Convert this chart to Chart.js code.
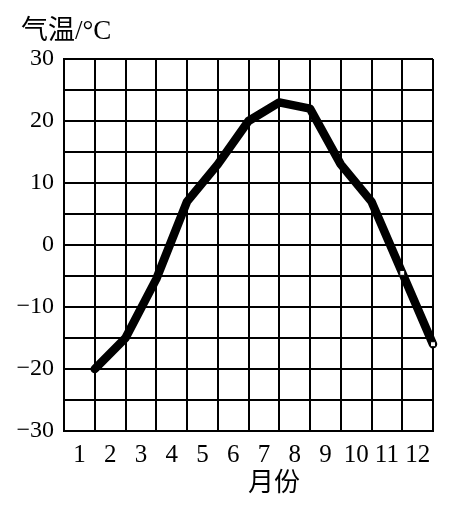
<!DOCTYPE html>
<html>
<head>
<meta charset="utf-8">
<script src="https://cdn.jsdelivr.net/npm/chart.js@4/dist/chart.umd.min.js"></script>
<style>
    html, body { margin: 0; padding: 0; background: #fff; }
    #wrap { width: 463px; height: 507px; }
</style>
</head>
<body>
<div id="wrap"><canvas id="chart"></canvas></div>
<script>
    // --- Data ---
    const months = [1, 2, 3, 4, 5, 6, 7, 8, 9, 10, 11, 12];
    const monthLabels = ['1', '2', '3', '4', '5', '6', '7', '8', '9', '10', '11', '12'];
    const temperatures = [-20, -15, -5.5, 7, 13, 20, 23, 22, 13, 7, -4.5, -16];
    const yTickLabels = [-30, -20, -10, 0, 10, 20, 30];

    const SERIF = '"Liberation Serif", "Noto Sans CJK SC", serif';

    // axis captions: y caption top-left, x caption under the month labels
    const captions = {
        id: 'captions',
        afterDraw(chart) {
            const ctx = chart.ctx;
            ctx.save();
            ctx.fillStyle = '#000';
            ctx.textBaseline = 'middle';
            ctx.textAlign = 'left';
            ctx.font = '27px ' + SERIF;
            ctx.fillText('气温/°C', 21, 32);
            ctx.textAlign = 'center';
            ctx.font = '26px ' + SERIF;
            ctx.fillText('月份', 274, 484);
            ctx.restore();
        }
    };

    const ctx = document.getElementById('chart').getContext('2d');
    new Chart(ctx, {
        type: 'line',
        data: {
            datasets: [{
                data: months.map((m, i) => ({ x: m, y: temperatures[i] })),
                borderColor: '#000',
                borderWidth: 8.5,
                borderCapStyle: 'round',
                borderJoinStyle: 'round',
                tension: 0,
                clip: false,
                pointStyle: 'rect',
                pointRadius: (c) => c.dataIndex >= 10 ? 3.5 : 0,
                pointBackgroundColor: '#fff',
                pointBorderColor: '#000',
                pointBorderWidth: 1,
                xAxisID: 'x',
                yAxisID: 'y'
            }]
        },
        options: {
            responsive: true,
            maintainAspectRatio: false,
            animation: false,
            layout: {
                padding: { top: 59, right: 30, left: 0, bottom: 0 }
            },
            plugins: {
                legend: { display: false },
                tooltip: { enabled: false }
            },
            scales: {
                x: {
                    type: 'linear',
                    position: 'bottom',
                    min: 0,
                    max: 12,
                    ticks: { display: false, stepSize: 1 },
                    grid: { color: '#000', lineWidth: 2, drawTicks: false },
                    border: { color: '#000', width: 2 }
                },
                xLabel: {
                    type: 'linear',
                    position: 'bottom',
                    min: 0,
                    max: 12,
                    grid: { display: false },
                    border: { display: false },
                    afterBuildTicks: (axis) => {
                        axis.ticks = months.map(m => ({ value: m - 0.5 }));
                    },
                    afterFit: (axis) => { axis.height = 76; },
                    ticks: {
                        autoSkip: false,
                        maxRotation: 0,
                        padding: 1,
                        color: '#000',
                        font: { family: SERIF, size: 25 },
                        callback: (value, index) => monthLabels[index]
                    }
                },
                y: {
                    min: -30,
                    max: 30,
                    afterFit: (axis) => { axis.width = 64; },
                    afterBuildTicks: (axis) => {
                        const ticks = [];
                        for (let v = -30; v <= 30; v += 5) ticks.push({ value: v });
                        axis.ticks = ticks;
                    },
                    ticks: {
                        autoSkip: false,
                        padding: 10,
                        color: '#000',
                        font: { family: SERIF, size: 24 },
                        callback: (value) => yTickLabels.includes(value)
                            ? String(value).replace('-', '\u2212') : ''
                    },
                    grid: { color: '#000', lineWidth: 2, drawTicks: false },
                    border: { color: '#000', width: 2 }
                }
            }
        },
        plugins: [captions]
    });
</script>
</body>
</html>
